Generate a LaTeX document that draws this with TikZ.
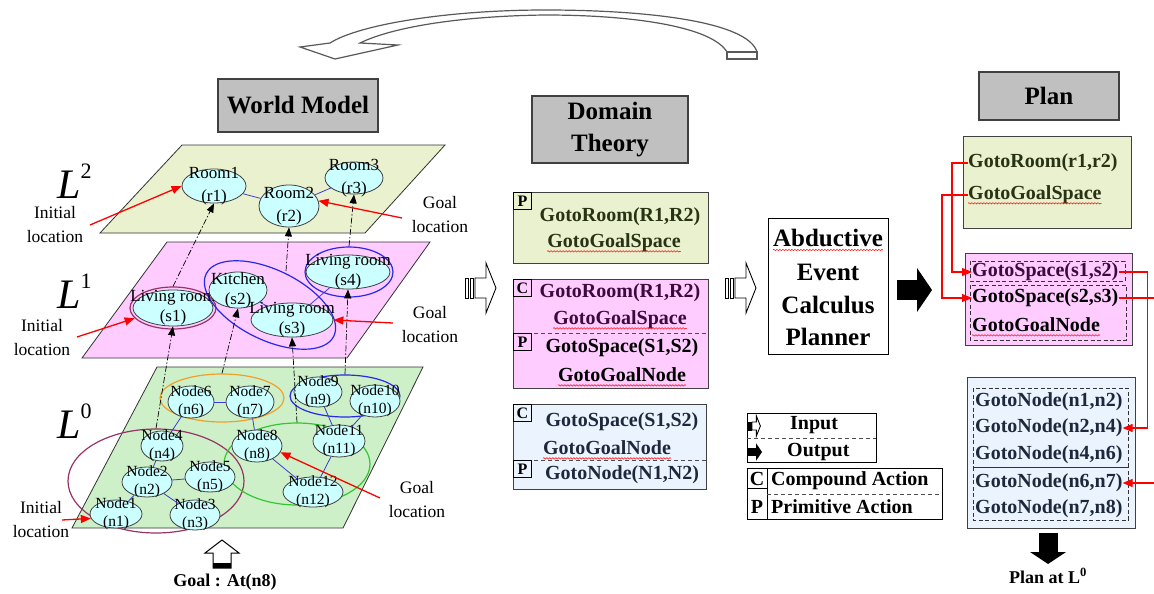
\documentclass[tikz,border=0pt]{standalone}
\usepackage{fontspec}
\setmainfont{Liberation Serif}
\usetikzlibrary{arrows.meta,shapes.geometric,decorations.pathmorphing,calc}

\definecolor{lvtwo}{RGB}{234,241,206}
\definecolor{lvone}{RGB}{255,204,255}
\definecolor{lvzero}{RGB}{206,240,200}
\definecolor{lvblue}{RGB}{234,243,254}
\definecolor{nodefill}{RGB}{204,255,255}
\definecolor{hdrgray}{RGB}{192,192,192}
\definecolor{edgeblue}{RGB}{60,60,210}
\definecolor{grpmaroon}{RGB}{153,51,102}
\definecolor{grporange}{RGB}{240,160,40}
\definecolor{grpblue}{RGB}{40,40,235}
\definecolor{grpgreen}{RGB}{50,200,50}
\definecolor{txtolive}{RGB}{40,50,20}
\definecolor{txtplum}{RGB}{60,10,60}
\definecolor{txtnavy}{RGB}{30,40,60}
\definecolor{boxline}{RGB}{64,64,64}

\tikzset{
  plane/.style={draw=black!80, line width=0.8},
  lnode/.style={ellipse, draw=black!75, fill=nodefill, line width=0.8, inner sep=0},
  ntwo/.style={font=\fontsize{17}{23}\selectfont, align=center, inner sep=0},
  none/.style={font=\fontsize{17}{20}\selectfont, align=center, inner sep=0},
  nzero/.style={font=\fontsize{15.5}{18}\selectfont, align=center, inner sep=0},
  grp/.style={ellipse, draw, line width=1.2, inner sep=0},
  link/.style={draw=edgeblue, line width=0.8},
  updash/.style={black, line width=0.7, dash pattern=on 6pt off 2pt on 1.5pt off 2pt,
    -{Triangle[length=9pt,width=7pt]}},
  redarr/.style={red, line width=1.3, -{Triangle[length=10pt,width=8pt]}},
  lbl/.style={font=\fontsize{17.5}{24}\selectfont, align=center, inner sep=0},
  hdr/.style={draw=boxline, fill=hdrgray, line width=1.3,
    font=\bfseries\fontsize{25}{32}\selectfont, align=center, inner sep=0},
  actbox/.style={draw=boxline, line width=1.3, inner sep=0, anchor=north west},
  acttag/.style={draw=black, line width=0.8, inner sep=0, minimum width=18,
    minimum height=17, anchor=north west, font=\bfseries\fontsize{16}{16}\selectfont},
  acttext/.style={font=\bfseries\fontsize{20}{20}\selectfont, inner sep=0},
  plantext/.style={acttext, anchor=west},
  bigtext/.style={font=\bfseries\fontsize{25}{25}\selectfont, inner sep=0},
  legtext/.style={font=\bfseries\fontsize{20}{20}\selectfont, inner sep=0, anchor=west},
  sepdash/.style={draw=black!70, dash pattern=on 4pt off 3pt, line width=1},
  innerdash/.style={draw=black!80, dash pattern=on 4pt off 2.5pt, line width=0.9},
  squig/.style={red, line width=0.5, decorate,
    decoration={snake, amplitude=0.7pt, segment length=3pt}},
  inarrow/.pic={
    \draw[line width=0.9, fill=white] (0,-10) rectangle (3,10) (5,-10) rectangle (8,10);
    \draw[line width=0.9, fill=white] (10,-10) -- (21,-10) -- (21,-25) -- (31,0)
      -- (21,25) -- (21,10) -- (10,10) -- cycle;},
  outarrow/.pic={
    \fill (0,-10) rectangle (20,10);
    \fill (20,-22) -- (35,0) -- (20,22) -- cycle;}
}

% ellipse place node: name, x, y, x radius, y radius, text style, text
\newcommand\lvnode[7]{%
  \node[lnode, minimum width={2*#4}, minimum height={2*#5}] (#1) at (#2,#3) {};
  \node[#6] (#1t) at (#1.center) {#7};}
% spell-check style underline below a text node
\newcommand\squiggle[1]{%
  \draw[squig] ([yshift=-3.5pt]#1.base west) -- ([yshift=-3.5pt]#1.base east);}

\begin{document}
\begin{tikzpicture}[x=1pt,y=-1pt]
\useasboundingbox (0,0) rectangle (1154,594);
\fill[white] (0,0) rectangle (1154,594);

% ---- feedback arrow from plan back to world model ----
\draw[black!65, line width=1.2, fill=white]
  (757,52) .. controls (748,22) and (650,10) .. (545,10)
  .. controls (450,10) and (360,24) .. (330,43)
  -- (300,47) -- (335,59) -- (398,45) -- (360,43)
  .. controls (395,26) and (465,16) .. (545,15)
  .. controls (635,15) and (712,27) .. (727,52) -- cycle;
\draw[black!65, line width=1.2, fill=white] (727,52) rectangle (757,59);

% ---- headers ----
\node[hdr, minimum width=160, minimum height=53] (wm) at (298,105.5) {World Model};
\node[hdr, minimum width=156, minimum height=67] (dt) at (610,129.5) {Domain\\Theory};
\node[hdr, minimum width=140, minimum height=48] (pl) at (1049,96) {Plan};

% ---- the three levels ----
\draw[plane, fill=lvtwo] (182,145) -- (445,145) -- (365,233) -- (100,233) -- cycle;
\draw[plane, fill=lvone] (167,242) -- (430,242) -- (347,358) -- (82,358) -- cycle;
\draw[plane, fill=lvzero] (157,367) -- (423,367) -- (343,528) -- (72,528) -- cycle;

\node[anchor=base west, inner sep=0, font=\fontsize{42}{42}\selectfont] (lab2) at (57,198)
  {\textit{L}\raisebox{20pt}{\fontsize{22}{22}\selectfont 2}};
\node[anchor=base west, inner sep=0, font=\fontsize{42}{42}\selectfont] (lab1) at (57,308)
  {\textit{L}\raisebox{20pt}{\fontsize{22}{22}\selectfont 1}};
\node[anchor=base west, inner sep=0, font=\fontsize{42}{42}\selectfont] (lab0) at (57,438)
  {\textit{L}\raisebox{20pt}{\fontsize{22}{22}\selectfont 0}};

% groups
\node[grp, draw=grpmaroon, minimum width=86, minimum height=42] (g1) at (173,308) {};
\node[grp, draw=grpblue, minimum width=142, minimum height=70, rotate=-26] (g23) at (270,305) {};
\node[grp, draw=grpblue, minimum width=88, minimum height=50] (g4) at (349,272) {};
\node[grp, draw=grpmaroon, minimum width=176, minimum height=104] (h1) at (156,481) {};
\node[grp, draw=grporange, minimum width=124, minimum height=48] (h2) at (222,398) {};
\node[grp, draw=grpgreen, minimum width=146, minimum height=82] (h3) at (297,464) {};
\node[grp, draw=grpblue, minimum width=110, minimum height=42] (h4) at (345,396) {};

% L2 rooms
\lvnode{r1}{214}{186}{32}{17}{ntwo}{Room1\\(r1)}
\lvnode{r2}{289}{206}{30}{21}{ntwo}{Room2\\(r2)}
\lvnode{r3}{354}{178}{29}{16}{ntwo}{Room3\\(r3)}
% L1 spaces
\lvnode{s1}{173}{308}{40}{18}{none}{Living room\\(s1)}
\lvnode{s2}{238}{290}{29}{18}{none}{Kitchen\\(s2)}
\lvnode{s3}{292}{320}{41}{17}{none}{Living room\\(s3)}
\lvnode{s4}{348}{272}{42}{17}{none}{Living room\\(s4)}
% L0 nodes
\lvnode{n1}{116}{514}{26}{14}{nzero}{Node1\\(n1)}
\lvnode{n2}{147}{482}{25}{15}{nzero}{Node2\\(n2)}
\lvnode{n3}{195}{515}{25}{15}{nzero}{Node3\\(n3)}
\lvnode{n4}{162}{446}{21}{15}{nzero}{Node4\\(n4)}
\lvnode{n5}{210}{477}{25}{15}{nzero}{Node5\\(n5)}
\lvnode{n6}{191}{402}{23}{16}{nzero}{Node6\\(n6)}
\lvnode{n7}{250}{402}{24}{16}{nzero}{Node7\\(n7)}
\lvnode{n8}{257}{446}{25}{16}{nzero}{Node8\\(n8)}
\lvnode{n9}{318}{392}{24}{15}{nzero}{Node9\\(n9)}
\lvnode{n10}{375}{401}{25}{16}{nzero}{Node10\\(n10)}
\lvnode{n11}{339}{441}{26}{16}{nzero}{Node11\\(n11)}
\lvnode{n12}{313}{492}{30}{15}{nzero}{Node12\\(n12)}

% adjacency
\draw[link] (r1) -- (r2);
\draw[link] (r2) -- (r3);
\draw[link] (s1) -- (s2);
\draw[link] (s2) -- (s3);
\draw[link] (s3) -- (s4);
\draw[link] (n6) -- (n7);
\draw[link] (n6) -- (n4);
\draw[link] (n4) -- (n2);
\draw[link] (n2) -- (n5);
\draw[link] (n2) -- (n1);
\draw[link] (n2) -- (n3);
\draw[link] (n7) -- (n8);
\draw[link] (n8) -- (n12);
\draw[link] (n12) -- (n11);
\draw[link] (n11) -- (n9);
\draw[link] (n11) -- (n10);

% abstraction links between levels
\coordinate (g23top) at (286,271);
\draw[updash] (g1.north) -- (r1.south);
\draw[updash] (g23top) -- (r2.south);
\draw[updash] (g4.north) -- (r3.south);
\draw[updash] (h1.north) -- (s1.south);
\draw[updash] (h2.north) -- (s2.south);
\draw[updash] (h3.north) -- (s3.south);
\draw[updash] (h4.north) -- (s4.south);

% initial and goal markers
\node[lbl] (iniAt) at (55,225) {Initial\\location};
\node[lbl] (goalAt) at (440,215) {Goal\\location};
\node[lbl] (iniBt) at (42,338) {Initial\\location};
\node[lbl] (goalBt) at (430,325) {Goal\\location};
\node[lbl] (iniCt) at (41,520) {Initial\\location};
\node[lbl] (goalCt) at (417,500) {Goal\\location};
\coordinate (iniA) at (90,225);
\coordinate (goalA) at (402,218);
\coordinate (iniB) at (77,337);
\coordinate (goalB) at (393,323);
\coordinate (iniC) at (62,520);
\coordinate (goalC) at (380,498);
\draw[redarr] (iniA) -- (r1.west);
\draw[redarr] (goalA) -- (r2.10);
\draw[redarr] (iniB) -- (g1.195);
\draw[redarr] (goalB) -- (s3.east);
\draw[redarr] (iniC) -- (n1.190);
\draw[redarr] (goalC) -- (n8.-15);

% goal input
\draw[line width=1, fill=white] (213,568) -- (213,553) -- (205,553) -- (222,540)
  -- (239,553) -- (231,553) -- (231,568) -- cycle;
\fill (213,563) rectangle (231,568);
\node[font=\bfseries\fontsize{18}{18}\selectfont, inner sep=0] (goal) at (225,582) {Goal : At(n8)};

% ---- domain theory ----
\node[actbox, fill=lvtwo, minimum width=195, minimum height=71] (d1) at (513,192) {};
\node[actbox, fill=lvone, minimum width=195, minimum height=109] (d2) at (513,279) {};
\node[actbox, fill=lvblue, minimum width=193, minimum height=85] (d3) at (513,404) {};
\draw[sepdash] (513,333) -- (708,333);
\draw[sepdash] (513,460) -- (706,460);
\node[acttag] (d1p) at (d1.north west) {P};
\node[acttag] (d2c) at (d2.north west) {C};
\node[acttag] (d2p) at (513,333) {P};
\node[acttag] (d3c) at (d3.north west) {C};
\node[acttag] (d3p) at (513,460) {P};

\node[acttext, text=txtolive] (d1a) at (620,217) {GotoRoom(R1,R2)};
\node[acttext, text=txtolive] (d1b) at (614,243) {GotoGoalSpace};
\node[acttext, text=txtplum] (d2a) at (620,293) {GotoRoom(R1,R2)};
\node[acttext, text=txtplum] (d2b) at (620,320) {GotoGoalSpace};
\node[acttext, text=black] (d2c2) at (622,348) {GotoSpace(S1,S2)};
\node[acttext, text=black] (d2d) at (622,375) {GotoGoalNode};
\node[acttext, text=txtnavy] (d3a) at (622,422) {GotoSpace(S1,S2)};
\node[acttext, text=txtnavy] (d3b) at (607,448) {GotoGoalNode};
\node[acttext, text=txtnavy] (d3c2) at (622,475) {GotoNode(N1,N2)};
\squiggle{d1b}
\squiggle{d2b}
\squiggle{d2d}
\squiggle{d3b}

% ---- flow arrows ----
\pic at (465,288) {inarrow};
\pic at (725,288) {inarrow};
\pic at (897,290) {outarrow};

% ---- planner ----
\node[actbox, draw=black, fill=white, minimum width=120, minimum height=136] (abd) at (768,218) {};
\node[bigtext] (abd1) at (828,238) {Abductive};
\node[bigtext] (abd2) at (828,272) {Event};
\node[bigtext] (abd3) at (828,305) {Calculus};
\node[bigtext] (abd4) at (828,337) {Planner};
\squiggle{abd1}

% ---- legend ----
\node[actbox, draw=black, line width=1, minimum width=129, minimum height=49] (lgio) at (747,413) {};
\draw[sepdash] (747,438) -- (876,438);
\pic[scale=0.4] at (748,426) {inarrow};
\pic[scale=0.4] at (748,452) {outarrow};
\node[legtext] (lgin) at (790,425) {Input};
\node[legtext] (lgout) at (787,452) {Output};
\node[actbox, draw=black, line width=1, minimum width=195, minimum height=51] (lgcp) at (747,468) {};
\draw[line width=1] (767,468) -- (767,519);
\draw[line width=1] (747,488) -- (767,488);
\draw[sepdash] (767,494) -- (942,494);
\node[font=\bfseries\fontsize{20}{20}\selectfont, inner sep=0] (lgc) at (757,479) {C};
\node[font=\bfseries\fontsize{20}{20}\selectfont, inner sep=0] (lgp) at (757,507) {P};
\node[legtext] (lgca) at (771,481) {Compound Action};
\node[legtext] (lgpa) at (771,507) {Primitive Action};

% ---- plan ----
\node[actbox, fill=lvtwo, minimum width=168, minimum height=92] (p1) at (963,136) {};
\node[actbox, fill=lvone, minimum width=167, minimum height=92] (p2) at (965,253) {};
\node[actbox, fill=lvblue, minimum width=168, minimum height=151] (p3) at (967,377) {};
\draw[innerdash] (970,261) rectangle (1125,281);
\draw[innerdash] (970,285) rectangle (1126,340);
\draw[innerdash] (973,388) rectangle (1128,467);
\draw[innerdash] (973,467) rectangle (1128,520);

\node[plantext, text=txtolive] (pa1) at (968,163) {GotoRoom(r1,r2)};
\node[plantext, text=txtolive] (pa2) at (968,195) {GotoGoalSpace};
\node[plantext, text=txtplum] (pb1) at (972,272) {GotoSpace(s1,s2)};
\node[plantext, text=black] (pb2) at (972,298) {GotoSpace(s2,s3)};
\node[plantext, text=black] (pb3) at (972,325) {GotoGoalNode};
\node[plantext, text=txtnavy] (pc1) at (975,402) {GotoNode(n1,n2)};
\node[plantext, text=txtnavy] (pc2) at (975,428) {GotoNode(n2,n4)};
\node[plantext, text=txtnavy] (pc3) at (975,455) {GotoNode(n4,n6)};
\node[plantext, text=txtnavy] (pc4) at (975,483) {GotoNode(n6,n7)};
\node[plantext, text=txtnavy] (pc5) at (975,509) {GotoNode(n7,n8)};
\squiggle{pa2}
\squiggle{pb3}

\draw[redarr, line width=1.1] (pa1.west) -- ++(-16,0) |- (pb1.west);
\draw[redarr, line width=1.1] (pa2.west) -- ++(-26,0) |- (pb2.west);
\draw[redarr, line width=1.1] (pb1.east) -- ++(29,0) |- (pc2.east);
\begin{scope}
  \clip (0,0) rectangle (1154,594);
  \draw[redarr, line width=1.1] (pb2.east) -- ++(40,0) |- (pc4.east);
\end{scope}

\fill (1039,533) rectangle (1058,553);
\fill (1030,552) -- (1066,552) -- (1048,564) -- cycle;
\node[font=\bfseries\fontsize{18}{18}\selectfont, inner sep=0] (planl0) at (1048,576)
  {Plan at L\textsuperscript{0}};
\end{tikzpicture}
\end{document}
